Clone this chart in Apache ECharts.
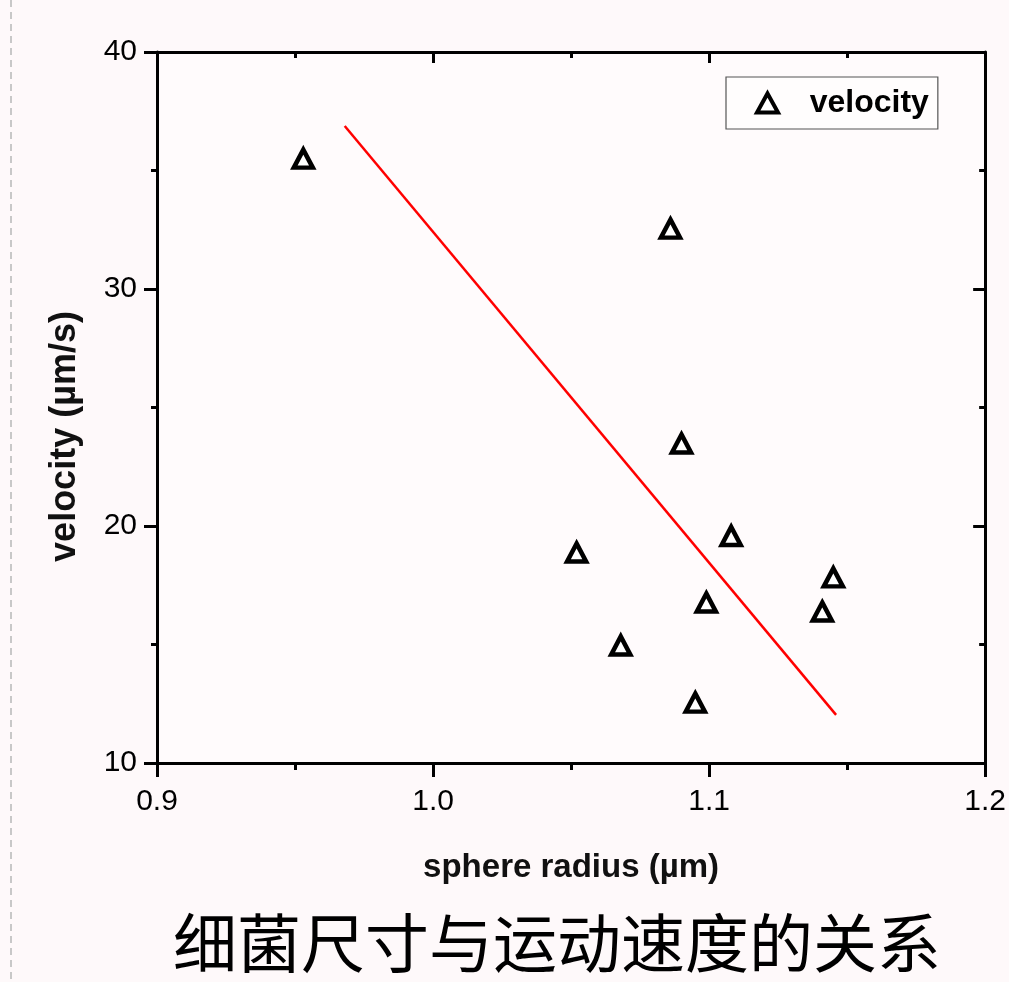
<!DOCTYPE html>
<html>
<head>
<meta charset="utf-8">
<script src="https://cdn.jsdelivr.net/npm/echarts@6/dist/echarts.min.js"></script>
<style>
  html, body { margin: 0; padding: 0; background: #fef9fa; }
  #chart { width: 1009px; height: 982px; }
</style>
</head>
<body>
<div id="chart"></div>
<script>
// ---- data ----
const radius   = [0.953, 1.086, 1.090, 1.052, 1.108, 1.145, 1.099, 1.141, 1.068, 1.095];
const velocity = [35.5, 32.55, 23.48, 18.88, 19.58, 17.83, 16.77, 16.39, 14.96, 12.55];
const fitRadius   = [0.968, 1.146];
const fitVelocity = [36.88, 12.03];
const xRange = [0.9, 1.2];
const yRange = [10, 40];
const xLabel = 'sphere radius (\u00b5m)';
const yLabel = 'velocity (\u00b5m/s)';
const seriesName = 'velocity';
const chartTitle = '细菌尺寸与运动速度的关系';

const pts = radius.map((r, i) => [r, velocity[i]]);
const fit = fitRadius.map((r, i) => [r, fitVelocity[i]]);

const font = '"Liberation Sans", Arial, sans-serif';
const lineW = 3;

function axisBase(extra) {
  return Object.assign({
    type: 'value',
    axisLine: { show: true, onZero: false, lineStyle: { color: '#000', width: lineW } },
    splitLine: { show: false },
  }, extra);
}

const chart = echarts.init(document.getElementById('chart'));
chart.setOption({
  backgroundColor: '#fef9fa',
  animation: false,
  title: {
    text: chartTitle,
    left: 168,
    top: 906,
    textStyle: { fontFamily: '"Noto Sans CJK SC", sans-serif', fontSize: 64, fontWeight: 'normal', color: '#000' }
  },
  grid: { left: 157, right: 21, top: 52, bottom: 219, show: true, backgroundColor: '#fffbfc', borderWidth: 0 },
  legend: {
    data: [seriesName],
    left: 726, top: 77,
    orient: 'vertical',
    padding: [10, 9, 10, 29],
    itemWidth: 21, itemHeight: 19,
    backgroundColor: '#fffdfd',
    borderColor: '#555', borderWidth: 1.2,
    itemStyle: { color: '#ffffff', borderColor: '#000', borderWidth: 4, opacity: 1 },
    formatter: n => '   ' + n,
    textStyle: { fontFamily: font, fontSize: 32, fontWeight: 'bold', color: '#000' }
  },
  xAxis: [
    axisBase({
      position: 'bottom', min: xRange[0], max: xRange[1], interval: 0.1,
      axisTick: { show: true, inside: false, length: 14, lineStyle: { color: '#000', width: lineW } },
      minorTick: { show: true, splitNumber: 2, length: 7, lineStyle: { color: '#000', width: lineW } },
      axisLabel: { fontFamily: font, fontSize: 30, color: '#000', margin: 24, formatter: v => v.toFixed(1) },
      name: xLabel, nameLocation: 'middle', nameGap: 88,
      nameTextStyle: { fontFamily: font, fontSize: 33, fontWeight: 'bold', color: '#111' }
    }),
    axisBase({
      position: 'top', min: xRange[0], max: xRange[1], interval: 0.1,
      axisTick: { show: true, inside: true, length: 11, lineStyle: { color: '#000', width: lineW } },
      minorTick: { show: true, splitNumber: 2, length: 6, lineStyle: { color: '#000', width: lineW } },
      axisLabel: { show: false }
    })
  ],
  yAxis: [
    axisBase({
      position: 'left', min: yRange[0], max: yRange[1], interval: 10,
      axisTick: { show: true, inside: false, length: 13, lineStyle: { color: '#000', width: lineW } },
      minorTick: { show: true, splitNumber: 2, length: 6, lineStyle: { color: '#000', width: lineW } },
      axisLabel: { fontFamily: font, fontSize: 30, color: '#000', margin: 20 },
      name: yLabel, nameLocation: 'middle', nameGap: 74,
      nameTextStyle: { fontFamily: font, fontSize: 36, fontWeight: 'bold', color: '#111', padding: [0, 58, 0, 0] }
    }),
    axisBase({
      position: 'right', min: yRange[0], max: yRange[1], interval: 10,
      axisTick: { show: true, inside: true, length: 12, lineStyle: { color: '#000', width: lineW } },
      minorTick: { show: true, splitNumber: 2, length: 6, lineStyle: { color: '#000', width: lineW } },
      axisLabel: { show: false }
    })
  ],
  graphic: [{
    type: 'line',
    shape: { x1: 11, y1: 0, x2: 11, y2: 982 },
    style: { stroke: '#c8c8c8', lineWidth: 2, lineDash: [7, 5] },
    silent: true
  }],
  series: [
    {
      name: 'fit', type: 'line', data: fit, xAxisIndex: 0, yAxisIndex: 0,
      symbol: 'none', lineStyle: { color: '#ff0000', width: 2.5 }, z: 2
    },
    {
      name: seriesName, type: 'scatter', data: pts, xAxisIndex: 0, yAxisIndex: 0,
      symbol: 'triangle', symbolSize: [19, 18],
      itemStyle: { color: '#ffffff', borderColor: '#000', borderWidth: 4.5, opacity: 1 }, z: 3
    }
  ]
});
</script>
</body>
</html>
